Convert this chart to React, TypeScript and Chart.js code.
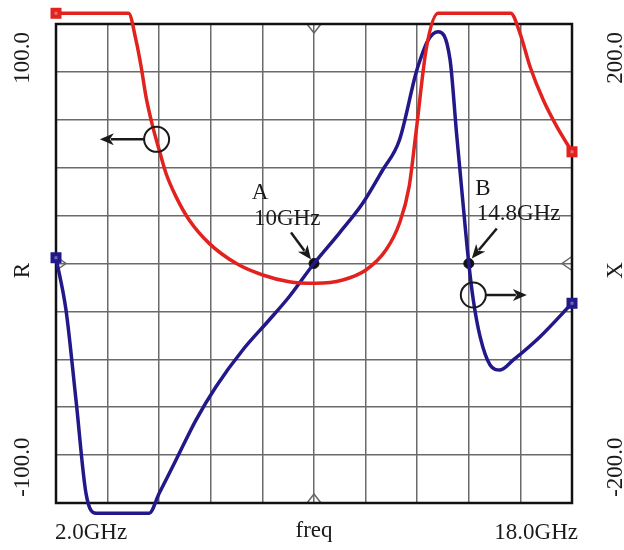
import { useEffect, useRef } from "react";
import { Chart, registerables } from "chart.js";

Chart.register(...registerables);

// Frequency sweep (GHz) and axis ranges
const freqMin = 2.0;
const freqMax = 18.0;
const gridFreqs = [2.0, 3.6, 5.2, 6.8, 8.4, 10.0, 11.6, 13.2, 14.8, 16.4, 18.0];
const rMin = -125;
const rMax = 125;
const xMin = -250;
const xMax = 250;

// Resistance R (left axis)
const rFreq = [2.0, 4.25, 4.48, 4.64, 4.79, 5.0, 5.2, 5.41, 5.72, 6.13, 6.75, 7.58, 8.41, 9.23, 10.06, 10.89, 11.61, 12.23, 12.65, 12.95, 13.16, 13.49, 13.85, 16.1, 16.39, 16.7, 17.11, 17.53, 18.0];
const rValues = [130.6, 130.6, 116.6, 102.7, 87.1, 71.4, 59.2, 47.1, 34.9, 22.7, 10.5, 0.1, -6.0, -9.5, -10.3, -8.6, -3.4, 7.0, 21.0, 40.1, 68.0, 113.0, 130.6, 130.6, 120.0, 102.7, 85.3, 71.4, 58.3];

// Reactance X (right axis)
const xFreq = [2.0, 2.31, 2.62, 2.93, 3.24, 4.89, 5.2, 5.72, 6.34, 6.96, 7.79, 8.61, 9.23, 10.0, 10.78, 11.51, 12.13, 12.65, 13.16, 13.29, 13.54, 13.85, 14.22, 14.42, 14.63, 14.8, 14.94, 15.15, 15.46, 15.77, 16.18, 17.01, 18.0];
const xValues = [6.0, -48.5, -142.5, -239.9, -260.7, -260.7, -239.9, -205.1, -163.4, -128.6, -90.3, -59.0, -34.7, 0, 31.5, 62.8, 97.6, 128.9, 198.5, 212.4, 233.3, 242.0, 212.4, 135.9, 59.3, 0, -38.1, -76.4, -105.9, -111.2, -100.7, -76.4, -41.5];

// Zero-reactance markers
const markerNames = ["A", "B"];
const markerFreq = [10.0, 14.8];
const markerLabels = ["10GHz", "14.8GHz"];
const markerX = [0, 0];

// Axis text
const rTicks = [100, -100];
const rTickText = ["100.0", "-100.0"];
const xTicks = [200, -200];
const xTickText = ["200.0", "-200.0"];
const freqText = ["2.0GHz", "freq", "18.0GHz"];
const rTitle = "R";
const xTitle = "X";

// Curve-to-axis indicators: circle on a curve, arrow pointing to its axis
const rIndicator = { f: 5.12, v: 64.8, toF: 3.36 };
const xIndicator = { f: 14.94, v: -32.9, toF: 16.6 };

const RED = "rgb(226, 34, 30)";
const BLUE = "rgb(34, 24, 138)";
const INK = "#1a1a1a";
const FONT = "23px 'Liberation Serif', 'DejaVu Serif', serif";

function drawArrow(ctx: CanvasRenderingContext2D, x1: number, y1: number, x2: number, y2: number) {
  const ang = Math.atan2(y2 - y1, x2 - x1);
  const head = 14;
  const half = 6;
  const bx = x2 - head * Math.cos(ang);
  const by = y2 - head * Math.sin(ang);
  ctx.beginPath();
  ctx.moveTo(x1, y1);
  ctx.lineTo(bx + 3 * Math.cos(ang), by + 3 * Math.sin(ang));
  ctx.stroke();
  ctx.beginPath();
  ctx.moveTo(x2, y2);
  ctx.lineTo(bx - half * Math.sin(ang), by + half * Math.cos(ang));
  ctx.lineTo(bx + 4 * Math.cos(ang), by + 4 * Math.sin(ang));
  ctx.lineTo(bx + half * Math.sin(ang), by - half * Math.cos(ang));
  ctx.closePath();
  ctx.fill();
}

function drawEndSquare(ctx: CanvasRenderingContext2D, x: number, y: number, color: string) {
  const s = 11;
  ctx.fillStyle = color;
  ctx.fillRect(x - s / 2, y - s / 2, s, s);
  ctx.fillStyle = "rgba(255,255,255,0.35)";
  ctx.fillRect(x - 1.5, y - 1.5, 3, 3);
}

const overlay = {
  id: "overlay",
  beforeDatasetsDraw(chart: any) {
    const { ctx, chartArea: a } = chart;
    ctx.save();
    // axis-centre chevrons
    const xm = (a.left + a.right) / 2;
    const ym = (a.top + a.bottom) / 2;
    ctx.strokeStyle = "#666";
    ctx.lineWidth = 1.5;
    ctx.beginPath();
    ctx.moveTo(xm - 7, a.top);
    ctx.lineTo(xm, a.top + 9);
    ctx.lineTo(xm + 7, a.top);
    ctx.moveTo(xm - 7, a.bottom);
    ctx.lineTo(xm, a.bottom - 9);
    ctx.lineTo(xm + 7, a.bottom);
    ctx.moveTo(a.right, ym - 7);
    ctx.lineTo(a.right - 10, ym);
    ctx.lineTo(a.right, ym + 7);
    ctx.moveTo(a.left, ym - 7);
    ctx.lineTo(a.left + 10, ym);
    ctx.lineTo(a.left, ym + 7);
    ctx.stroke();
    // frame
    ctx.strokeStyle = "#111";
    ctx.lineWidth = 2.5;
    ctx.strokeRect(a.left, a.top, a.right - a.left, a.bottom - a.top);
    ctx.restore();
  },
  afterDatasetsDraw(chart: any) {
    const { ctx, scales } = chart;
    const sx = scales.x;
    const sr = scales.yR;
    const sX = scales.yX;
    ctx.save();

    // start / stop squares on both traces (drawn here so they also show outside the plot box)
    [0, 1].forEach((di) => {
      const pts = chart.getDatasetMeta(di).data;
      const color = di === 0 ? RED : BLUE;
      drawEndSquare(ctx, pts[0].x, pts[0].y, color);
      drawEndSquare(ctx, pts[pts.length - 1].x, pts[pts.length - 1].y, color);
    });

    ctx.fillStyle = INK;
    ctx.strokeStyle = INK;
    ctx.font = FONT;
    ctx.textBaseline = "middle";

    // marker annotations
    const labelOffsets = [
      { name: [-54, -71], text: [-60, -45], from: [-23, -31], to: [-3, -4] },
      { name: [14, -75], text: [8, -50], from: [28, -35], to: [3, -5] },
    ];
    markerNames.forEach((n, i) => {
      const px = sx.getPixelForValue(markerFreq[i]);
      const py = sX.getPixelForValue(markerX[i]);
      const o = labelOffsets[i];
      ctx.textAlign = "center";
      ctx.fillText(n, px + o.name[0], py + o.name[1]);
      ctx.textAlign = "left";
      ctx.fillText(markerLabels[i], px + o.text[0], py + o.text[1]);
      ctx.lineWidth = 2.5;
      drawArrow(ctx, px + o.from[0], py + o.from[1], px + o.to[0], py + o.to[1]);
    });

    // axis indicators
    const ind = [
      { c: rIndicator, s: sr },
      { c: xIndicator, s: sX },
    ];
    ind.forEach(({ c, s }) => {
      const cx = sx.getPixelForValue(c.f);
      const cy = s.getPixelForValue(c.v);
      const tx = sx.getPixelForValue(c.toF);
      const r = 12.5;
      ctx.lineWidth = 2;
      ctx.beginPath();
      ctx.arc(cx, cy, r, 0, Math.PI * 2);
      ctx.stroke();
      const dir = tx > cx ? 1 : -1;
      ctx.lineWidth = 2.5;
      drawArrow(ctx, cx + dir * r, cy, tx, cy);
    });
    ctx.restore();
  },
  afterDraw(chart: any) {
    const { ctx, chartArea: a, scales } = chart;
    const sr = scales.yR;
    const sX = scales.yX;
    ctx.save();
    ctx.fillStyle = INK;
    ctx.font = FONT;
    ctx.textBaseline = "middle";
    ctx.textAlign = "center";
    const nudge = [-14, 12];
    const vText = (t: string, x: number, y: number) => {
      ctx.save();
      ctx.translate(x, y);
      ctx.rotate(-Math.PI / 2);
      ctx.fillText(t, 0, 0);
      ctx.restore();
    };
    rTicks.forEach((v, i) => vText(rTickText[i], 23, sr.getPixelForValue(v) + nudge[i]));
    xTicks.forEach((v, i) => vText(xTickText[i], 616, sX.getPixelForValue(v) + nudge[i]));
    vText(rTitle, 23, (a.top + a.bottom) / 2 + 7);
    vText(xTitle, 616, (a.top + a.bottom) / 2 + 7);

    const ty = a.bottom + 30;
    ctx.textAlign = "left";
    ctx.fillText(freqText[0], a.left - 1, ty);
    ctx.textAlign = "center";
    ctx.fillText(freqText[1], (a.left + a.right) / 2, ty - 2);
    ctx.textAlign = "right";
    ctx.fillText(freqText[2], a.right + 6, ty);
    ctx.restore();
  },
};

export default function App() {
  const canvasRef = useRef<HTMLCanvasElement | null>(null);

  useEffect(() => {
    const canvas = canvasRef.current;
    if (!canvas) return;
    const gridStyle = { color: "#6a6a6a", lineWidth: 1.5, drawTicks: false };
    const chart = new Chart(canvas, {
      type: "line",
      data: {
        datasets: [
          {
            label: "R",
            data: rFreq.map((f, i) => ({ x: f, y: rValues[i] })),
            yAxisID: "yR",
            borderColor: RED,
            backgroundColor: RED,
            borderWidth: 3.5,
            pointRadius: 0,
            cubicInterpolationMode: "monotone",
            clip: false,
          },
          {
            label: "X",
            data: xFreq.map((f, i) => ({ x: f, y: xValues[i] })),
            yAxisID: "yX",
            borderColor: BLUE,
            backgroundColor: BLUE,
            borderWidth: 3.5,
            pointRadius: 0,
            cubicInterpolationMode: "monotone",
            clip: false,
          },
          {
            label: "markers",
            data: markerFreq.map((f, i) => ({ x: f, y: markerX[i] })),
            yAxisID: "yX",
            showLine: false,
            pointRadius: 5,
            pointBackgroundColor: "#111",
            pointBorderColor: "#111",
            clip: false,
          },
        ],
      },
      options: {
        responsive: false,
        animation: false,
        devicePixelRatio: 1,
        layout: { padding: { left: 56, right: 52, top: 24, bottom: 47 } },
        plugins: { legend: { display: false }, tooltip: { enabled: false } },
        scales: {
          x: {
            type: "linear",
            min: freqMin,
            max: freqMax,
            afterBuildTicks: (s: any) => {
              s.ticks = gridFreqs.map((v) => ({ value: v }));
            },
            afterFit: (s: any) => {
              s.height = 0;
            },
            ticks: { display: false },
            grid: gridStyle,
            border: { display: false },
          },
          yR: {
            type: "linear",
            position: "left",
            min: rMin,
            max: rMax,
            ticks: { display: false, stepSize: 25 },
            afterFit: (s: any) => {
              s.width = 0;
            },
            grid: gridStyle,
            border: { display: false },
          },
          yX: {
            type: "linear",
            position: "right",
            min: xMin,
            max: xMax,
            ticks: { display: false, stepSize: 50 },
            afterFit: (s: any) => {
              s.width = 0;
            },
            grid: { display: false, drawTicks: false },
            border: { display: false },
          },
        },
      } as any,
      plugins: [overlay],
    });
    return () => chart.destroy();
  }, []);

  return (
    <div style={{ position: "absolute", left: 0, top: 0, width: 624, height: 550, background: "#fff" }}>
      <canvas ref={canvasRef} width={624} height={550} style={{ display: "block" }} />
    </div>
  );
}
